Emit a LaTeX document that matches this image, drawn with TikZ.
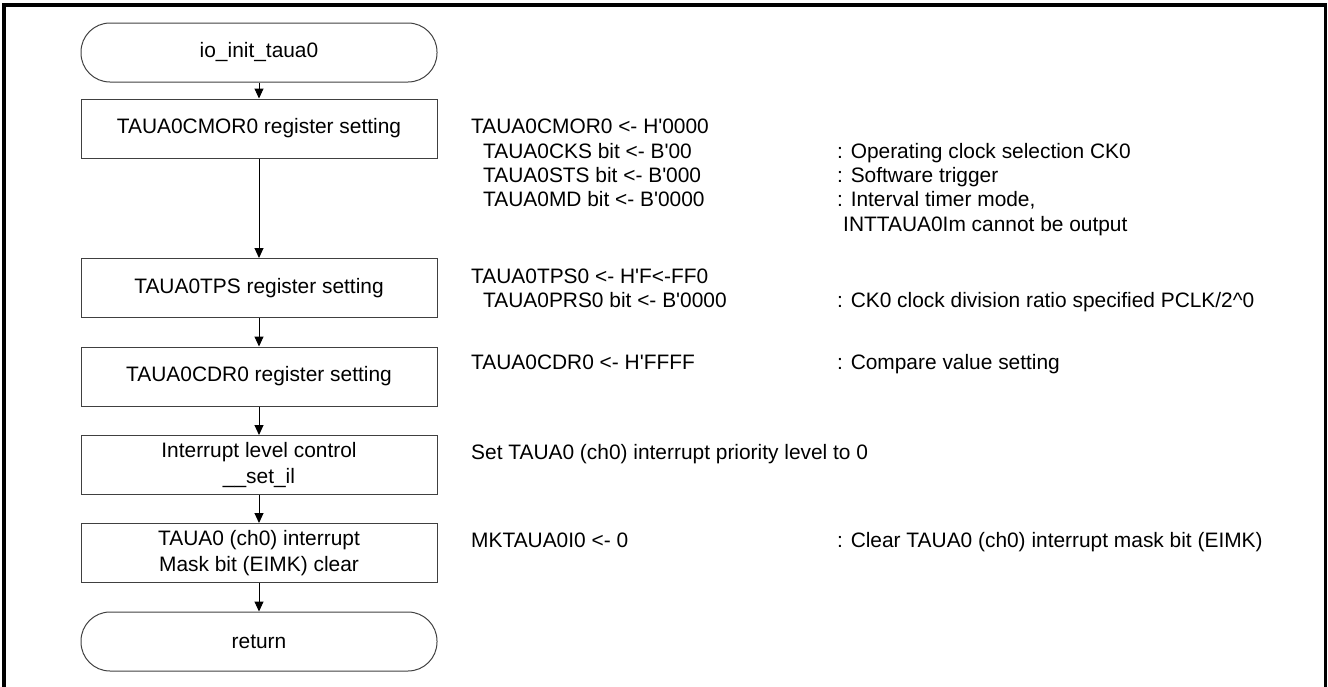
\documentclass[tikz,border=0pt]{standalone}
\usepackage{fontspec}
\setmainfont{Liberation Sans}
\usepackage{tikz}
\usetikzlibrary{arrows.meta}

\newcommand{\ap}{\textquotesingle}
\tikzset{
    proc/.style={draw=black!75, line width=1pt, minimum width=356pt, minimum height=59pt,
        inner sep=0pt, align=center, font=\fontsize{20.9}{26}\selectfont},
    term/.style={proc, rounded corners=29pt},
    flow/.style={-{Triangle[length=10pt,width=9pt]}, line width=1pt},
    memo/.style={anchor=base west, inner sep=0pt, font=\fontsize{20.9}{24}\selectfont}
}

\begin{document}
\begin{tikzpicture}[x=1pt, y=-1pt]
    \useasboundingbox (0,0) rectangle (1328,686);
    \draw[line width=3.8pt] (4,5.3) rectangle (1325.5,700);

    % flow chart
    \node[term] (start) at (259,52.5) {io\_init\_taua0};
    \node[proc] (cmor) at (259,128.5) {TAUA0CMOR0 register setting};
    \node[proc] (tps) at (259,288) {TAUA0TPS register setting};
    \node[proc] (cdr) at (259,376.5) {TAUA0CDR0 register setting};
    \node[proc] (lvl) at (259,465) {Interrupt level control\\\_\_set\_il};
    \node[proc] (mask) at (259,553) {TAUA0 (ch0) interrupt\\Mask bit (EIMK) clear};
    \node[term] (ret) at (259,641.5) {return};
    \foreach \a/\b in {start/cmor, cmor/tps, tps/cdr, cdr/lvl, lvl/mask, mask/ret} {
        \draw[flow] (\a) -- (\b);
    }

    % register values
    \foreach \tx/\ty/\txt [count=\k] in {
        471/126.5/{TAUA0CMOR0 <- H\ap 0000},
        483/151.5/{TAUA0CKS bit <- B\ap 00},
        483/175.5/{TAUA0STS bit <- B\ap 000},
        483/199.5/{TAUA0MD bit <- B\ap 0000},
        471/276/{TAUA0TPS0 <- H\ap F<-FF0},
        483/300/{TAUA0PRS0 bit <- B\ap 0000},
        471/362/{TAUA0CDR0 <- H\ap FFFF},
        471/452/{Set TAUA0 (ch0) interrupt priority level to 0},
        471/540/{MKTAUA0I0 <- 0}} {
        \node[memo] (val\k) at (\tx,\ty+7.3) {\txt};
    }

    % comments
    \foreach \tx/\ty/\txt [count=\k] in {
        837/151.5/{: Operating clock selection CK0},
        837/175.5/{: Software trigger},
        837/199.5/{: Interval timer mode,},
        843/224/{INTTAUA0Im cannot be output},
        837/300/{: CK0 clock division ratio specified PCLK/2\textasciicircum 0},
        837/362/{: Compare value setting},
        837/540/{: Clear TAUA0 (ch0) interrupt mask bit (EIMK)}} {
        \node[memo] (note\k) at (\tx,\ty+7.3) {\txt};
    }
\end{tikzpicture}
\end{document}
